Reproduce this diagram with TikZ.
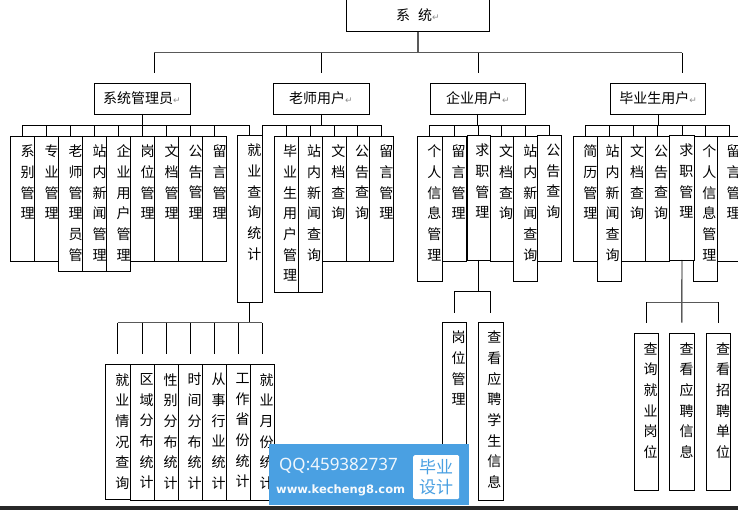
\documentclass[tikz,border=0pt]{standalone}
\usepackage{fontspec}
\setmainfont{Liberation Sans}
\newfontfamily\cjk{Noto Sans CJK SC}
\newfontfamily\arrowfont{DejaVu Sans}
\newfontfamily\wmfont{Noto Sans}
\newfontfamily\wwwfont{DejaVu Sans}
\definecolor{wmblue}{RGB}{74,160,226}
\definecolor{strip}{RGB}{40,40,40}
\tikzset{
	conn/.style={draw=black,line width=0.9pt},
	gconn/.style={draw=black!65,line width=1.3pt},
	headbox/.style 2 args={draw,fill=white,line width=0.9pt,inner sep=0pt,outer sep=0pt,anchor=north west,minimum width=#1,minimum height=#2,font=\cjk\fontsize{14}{16}\selectfont},
	colbox/.style 2 args={draw,fill=white,line width=0.9pt,inner sep=0pt,outer sep=0pt,anchor=north west,minimum width=#1,minimum height=#2},
	coltext/.style={inner sep=0pt,outer sep=0pt,anchor=north,align=center,font=\cjk\fontsize{14}{20.7}\selectfont}
}
% #1 text offset, #2 name, #3 left, #4 top, #5 width, #6 height, #7 characters
\newcommand{\col}[7][16.3]{
	\node [colbox={#5pt}{#6pt}] (#2) at (#3,#4) {};
	\node [coltext] (#2t) at ([xshift=#1pt,yshift=-9pt]#2.north west) {#7};
}
\newcommand{\ret}{{\arrowfont\fontsize{9}{10}\selectfont\textcolor{black!45}{↵}}}

\begin{document}
\begin{tikzpicture}[x=1pt,y=-1pt]
	\useasboundingbox (0,0) rectangle (738,510);
	\fill [strip] (0,506) rectangle (738,510);

	% top level
	\node [headbox={143.4pt}{32.7pt}] (root) at (346.3,-1) {系\hspace{8pt}统\ret};
	\node [headbox={96pt}{31pt}] (admin) at (94,83) {系统管理员\ret};
	\node [headbox={96pt}{31pt}] (teacher) at (273,83) {老师用户\ret};
	\node [headbox={95.7pt}{31pt}] (company) at (430,83) {企业用户\ret};
	\node [headbox={95pt}{31pt}] (grad) at (610.7,83) {毕业生用户\ret};

	% system admin
	\col[17.4]{xibie}{10.3}{136}{24}{125}{系\\别\\管\\理}
	\col[17.4]{zhuanye}{34.3}{136}{24}{125}{专\\业\\管\\理}
	\col[17.4]{laoshi}{58.3}{136}{24}{135}{老\\师\\管\\理\\员\\管}
	\col[17.4]{zhannei}{82.3}{136}{24}{135}{站\\内\\新\\闻\\管\\理}
	\col[17.4]{qiye}{106.3}{136}{24}{135}{企\\业\\用\\户\\管\\理}
	\col[17.4]{gangwei}{130.3}{136}{24}{125}{岗\\位\\管\\理}
	\col[17.4]{wendang}{154.3}{136}{24}{125}{文\\档\\管\\理}
	\col[17.4]{gonggao}{178.3}{136}{24}{125}{公\\告\\管\\理}
	\col[17.4]{liuyan}{202.3}{136}{24.4}{125}{留\\言\\管\\理}
	\col[17]{tongji}{237.3}{135}{25}{167}{就\\业\\查\\询\\统\\计}

	% teacher
	\col[15.7]{tbiye}{274.3}{136}{24}{156}{毕\\业\\生\\用\\户\\管\\理}
	\col[15.7]{tzhan}{298.3}{136}{24}{156}{站\\内\\新\\闻\\查\\询}
	\col[16]{twen}{322.3}{136}{24}{125}{文\\档\\查\\询}
	\col[15.7]{tgong}{346.3}{136}{23}{125}{公\\告\\查\\询}
	\col[17]{tliu}{369.3}{136}{24}{125}{留\\言\\管\\理}

	% company
	\col[17.3]{cgeren}{417}{136}{25}{145}{个\\人\\信\\息\\管\\理}
	\col[16.7]{cliu}{442}{136}{24}{125}{留\\言\\管\\理}
	\col[15.3]{cqiu}{467}{135}{23}{125}{求\\职\\管\\理}
	\col[16]{cwen}{490}{136}{23}{125}{文\\档\\查\\询}
	\col[17.3]{czhan}{513}{136}{24}{145}{站\\内\\新\\闻\\查\\询}
	\col{cgong}{537}{135}{24}{126}{公\\告\\查\\询}

	% graduate
	\col[17]{gjian}{573.3}{136}{24.4}{125}{简\\历\\管\\理}
	\col[15]{gzhan}{597.7}{136}{24}{145}{站\\内\\新\\闻\\查\\询}
	\col[15.3]{gwen}{621.7}{136}{24}{125}{文\\档\\查\\询}
	\col[15.3]{ggong}{645.7}{136}{24}{125}{公\\告\\查\\询}
	\col[15.7]{geren}{693.7}{136}{23.6}{145}{个\\人\\信\\息\\管\\理}
	\col[16.7]{gqiu}{669.7}{135}{24.6}{125}{求\\职\\管\\理}
	\col{gliu}{717.3}{136}{24}{125}{留\\言\\管\\理}

	% statistics row
	\col[17]{qingkuang}{105.3}{364.3}{25}{134.7}{就\\业\\情\\况\\查\\询}
	\col{quyu}{130.3}{364.3}{24}{136}{区\\域\\分\\布\\统\\计}
	\col{xingbie}{154.3}{364.3}{24}{136}{性\\别\\分\\布\\统\\计}
	\col{shijian}{178.3}{364.3}{24}{136}{时\\间\\分\\布\\统\\计}
	\col{hangye}{202.3}{364.3}{24}{136}{从\\事\\行\\业\\统\\计}
	\col{shengfen}{226.3}{364.3}{24}{136}{工\\作\\省\\份\\统\\计}
	\col{yuefen}{250.3}{364.3}{24}{136}{就\\业\\月\\份\\统\\计}

	% under the two job boxes
	\col{cgang}{442.3}{322}{24.4}{178}{岗\\位\\管\\理}
	\col{cyingpin}{478}{322}{25}{178}{查\\看\\应\\聘\\学\\生\\信\\息}
	\col{gjiuye}{634.3}{333.3}{24}{157}{查\\询\\就\\业\\岗\\位}
	\col[17.4]{gyingpin}{669.3}{333.3}{25}{157}{查\\看\\应\\聘\\信\\息}
	\col{gzhaopin}{706.7}{333.3}{23.6}{157}{查\\看\\招\\聘\\单\\位}

	% lines
	\coordinate (rootbus) at (0,52.7);
	\coordinate (busrow) at (0,125.3);
	\coordinate (tick1) at (154.3,73);
	\coordinate (tick2) at (321,73);
	\coordinate (tick3) at (478.3,73);
	\coordinate (tick4) at (682.3,73);
	\draw [gconn] (root.south) -- (root.south |- rootbus);
	\draw [gconn] (tick1 |- rootbus) -- (tick4 |- rootbus);
	\foreach \t in {tick1,tick2,tick3,tick4}
		\draw [conn] (\t |- rootbus) -- (\t);

	\draw [conn] (admin.south) -- (admin.south |- busrow);
	\draw [conn] (xibie.north |- busrow) -- (tongji.north |- busrow);
	\foreach \k in {xibie,zhuanye,laoshi,zhannei,qiye,gangwei,wendang,gonggao,liuyan,tongji}
		\draw [conn] (\k.north) -- (\k.north |- busrow);

	\draw [conn] (teacher.south) -- (teacher.south |- busrow);
	\draw [conn] (tongji.north east) -- (tongji.north east |- busrow) -- (tliu.north |- busrow);
	\foreach \k in {tbiye,tzhan,twen,tgong,tliu}
		\draw [conn] (\k.north) -- (\k.north |- busrow);

	\draw [conn] (company.south) -- (company.south |- busrow);
	\draw [conn] (cgeren.north |- busrow) -- (cgong.north |- busrow);
	\foreach \k in {cgeren,cliu,cqiu,cwen,czhan,cgong}
		\draw [conn] (\k.north) -- (\k.north |- busrow);

	\draw [conn] (grad.south) -- (grad.south |- busrow);
	\draw [conn] (gjian.north |- busrow) -- (gliu.north |- busrow);
	\foreach \k in {gjian,gzhan,gwen,ggong,gqiu,geren,gliu}
		\draw [conn] (\k.north) -- (\k.north |- busrow);

	\coordinate (statbus) at (0,322.7);
	\draw [conn] (tongji.south) -- (tongji.south |- statbus);
	\draw [gconn] (qingkuang.north |- statbus) -- (yuefen.north |- statbus);
	\foreach \k in {qingkuang,quyu,xingbie,shijian,hangye,shengfen,yuefen}
		\draw [conn,shorten >=10pt] (\k.north |- statbus) -- (\k.north);

	\coordinate (cbus) at (0,291.3);
	\draw [conn] (cqiu.south) -- (cqiu.south |- cbus);
	\draw [conn] (cgang.north |- cbus) -- (cyingpin.north |- cbus);
	\foreach \k in {cgang,cyingpin}
		\draw [conn,shorten >=9pt] (\k.north |- cbus) -- (\k.north);

	\coordinate (gbus) at (0,302.3);
	\draw [conn] (gqiu.south) -- (gyingpin.north |- 0,322.7);
	\draw [gconn] (gjiuye.north |- gbus) -- (gzhaopin.north |- gbus);
	\foreach \k in {gjiuye,gzhaopin}
		\draw [conn,shorten >=10.5pt] (\k.north |- gbus) -- (\k.north);

	% badge
	\node [fill=wmblue,minimum width=200pt,minimum height=61pt,inner sep=0pt,anchor=north west] (badge) at (269,444) {};
	\node [text=white!92!wmblue,anchor=west,inner sep=0pt,font=\wmfont\fontsize{17}{20}\selectfont] (qq) at (279,466) {QQ:459382737};
	\node [text=white!95!wmblue,anchor=west,inner sep=0pt,font=\wwwfont\bfseries\fontsize{11.5}{14}\selectfont] (www) at (276,490) {www.kecheng8.com};
	\node [fill=white,rounded corners=1.5pt,minimum width=46pt,minimum height=44pt,inner sep=0pt,anchor=north west,text=wmblue,align=center,font=\cjk\fontsize{17}{20}\selectfont] (bishe) at (413,455) {毕业\\设计};
\end{tikzpicture}
\end{document}
